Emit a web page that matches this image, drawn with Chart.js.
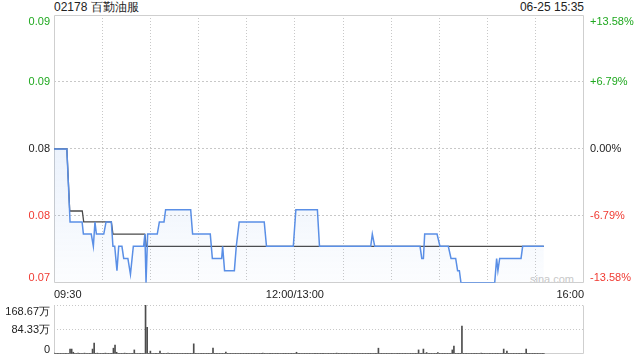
<!DOCTYPE html>
<html>
<head>
<meta charset="utf-8">
<script src="https://cdn.jsdelivr.net/npm/chart.js@4.4.1/dist/chart.umd.min.js"></script>
<style>
  html, body { margin: 0; padding: 0; background: #fff; }
  #wrap { position: relative; width: 640px; height: 360px; overflow: hidden;
          font-family: 'Liberation Sans', Arial, sans-serif; }
  #main { position: absolute; left: 0; top: 0; }
  #vol  { position: absolute; left: 0; top: 300px; }
  .txt  { position: absolute; font-size: 12px; line-height: 14px; color: #222; white-space: nowrap; }
</style>
</head>
<body>
<div id="wrap">
  <div class="txt" style="left:54px; top:0;">02178 百勤油服</div>
  <div class="txt" style="right:56px; top:0;">06-25 15:35</div>
  <div class="txt" style="right:66px; top:272px; font-size:11px; color:#c8c8c8;">sina.com</div>
  <canvas id="main" width="640" height="308"></canvas>
  <canvas id="vol" width="640" height="60"></canvas>
</div>
<script>
/* 02178 intraday — price vs average, with minute volume below */

const prevClose = 0.081;

// trading minutes from 09:30 (12:00 and 13:00 share minute 150)
const timeTickValues = [0, 30, 60, 90, 120, 150, 180, 210, 240, 270, 300, 330];
const timeTickLabels = ['09:30', '', '', '', '', '12:00/13:00', '', '', '', '', '', '16:00'];

const priceTickValues = [0.070, 0.0755, 0.081, 0.0865, 0.092];

// price line, vertices (minute, price)
const priceTimes = [
  0, 8, 10, 17.5, 18.3, 23.2, 24.5, 25.5, 26.4, 31, 32.4, 35.7, 36.7, 37.8, 39.2, 40.3,
  42.3, 43.4, 46, 47.6, 49.4, 55.8, 56.6, 57.3, 58.3, 64.3, 65.6, 68.5, 69.5, 85.1, 86.3,
  97.3, 98.6, 104.4, 105, 106.2, 112.3, 113.5, 115.3, 130.9, 132.3, 149, 150.6, 164, 165.3,
  197.2, 198.2, 199.7, 227.9, 229, 230, 230.8, 238.5, 240.3, 245.5, 247.2, 250.1, 251.3,
  252.4, 253.4, 274.4, 275.6, 276.4, 277.5, 290.8, 291.8, 305
];
const priceValues = [
  0.081, 0.081, 0.075, 0.075, 0.074, 0.074, 0.073, 0.075, 0.074, 0.074, 0.075, 0.075, 0.073, 0.073, 0.071, 0.073,
  0.073, 0.072, 0.072, 0.0707, 0.073, 0.073, 0.074, 0.070, 0.074, 0.074, 0.075, 0.075, 0.076, 0.076, 0.074,
  0.074, 0.072, 0.072, 0.073, 0.071, 0.071, 0.073, 0.075, 0.075, 0.073, 0.073, 0.076, 0.076, 0.073,
  0.073, 0.074, 0.073, 0.073, 0.072, 0.072, 0.074, 0.074, 0.073, 0.073, 0.072, 0.072, 0.071,
  0.071, 0.070, 0.070, 0.072, 0.071, 0.072, 0.072, 0.073, 0.073
];

// average price line, vertices (minute, price)
const avgTimes  = [0, 8, 9.8, 17.6, 18.5, 35.7, 36.7, 56.5, 57.5, 305];
const avgValues = [0.081, 0.081, 0.0759, 0.0759, 0.075, 0.075, 0.074, 0.074, 0.073, 0.073];

// volume per minute (万), minute 0..305
const volumes = [
  3, 2, 1, 2, 1, 1, 2, 1, 1, 2,
  17, 17, 6, 1, 2, 3, 1, 2, 1, 3,
  1, 2, 1, 1, 17, 38, 1, 3, 1, 1,
  2, 1, 3, 1, 1, 2, 1, 20, 31, 6,
  2, 1, 1, 2, 3, 1, 1, 2, 1, 1,
  14, 1, 2, 1, 1, 2, 1, 168.67, 92, 2,
  10, 1, 2, 1, 1, 2, 10, 1, 1, 2,
  1, 3, 1, 1, 2, 1, 1, 1, 2, 1,
  1, 2, 1, 1, 2, 1, 1, 35, 1, 1,
  2, 1, 1, 1, 2, 1, 1, 2, 1, 20,
  1, 1, 2, 1, 1, 1, 2, 7, 1, 1,
  1, 2, 1, 1, 1, 2, 1, 1, 1, 2,
  1, 1, 2, 1, 1, 1, 2, 1, 1, 1,
  3, 1, 1, 2, 1, 1, 1, 2, 1, 1,
  1, 2, 1, 1, 1, 2, 1, 1, 1, 2,
  2, 6, 1, 1, 2, 1, 1, 1, 2, 1,
  1, 2, 1, 1, 1, 2, 1, 1, 1, 2,
  1, 1, 2, 1, 1, 1, 3, 1, 1, 1,
  2, 1, 1, 1, 2, 1, 1, 1, 2, 1,
  1, 2, 1, 1, 1, 2, 1, 1, 1, 2,
  1, 2, 20, 1, 1, 2, 1, 1, 1, 2,
  1, 1, 2, 1, 1, 1, 2, 1, 1, 1,
  2, 1, 1, 1, 2, 1, 1, 14, 2, 1,
  17, 1, 5, 2, 1, 1, 2, 1, 1, 5,
  1, 2, 1, 1, 2, 1, 1, 2, 14, 27,
  1, 2, 1, 1, 96, 1, 1, 1, 2, 1,
  1, 2, 1, 1, 1, 2, 3, 1, 1, 1,
  2, 1, 1, 1, 2, 1, 1, 1, 2, 1,
  17, 1, 10, 1, 1, 2, 1, 1, 1, 2,
  1, 1, 2, 1, 17, 1, 1, 2, 1, 1,
  2, 1, 1, 2, 1, 2
];
const volTickValues = [0, 84.33, 168.67];

const FONT   = "'Liberation Sans', Arial, sans-serif";
const GREEN  = '#1fa81f';
const RED    = '#f03a32';
const DARK   = '#222';
const GRID   = '#c8c8c8';
const FRAME  = '#cfcfcf';

Chart.defaults.font.family = FONT;
Chart.defaults.font.size   = 11;
Chart.defaults.color       = DARK;

const priceColor = v => Math.abs(v - prevClose) < 1e-9 ? DARK : (v > prevClose ? GREEN : RED);

// frame round the plot area, only the sides asked for
const framePlugin = {
  id: 'frame',
  beforeDatasetsDraw(chart, args, opts) {
    const { ctx, chartArea: a } = chart;
    ctx.save();
    ctx.strokeStyle = FRAME;
    ctx.lineWidth   = 1;
    ctx.beginPath();
    const L = Math.round(a.left) + 0.5, R = Math.round(a.right) - 0.5;
    const T = Math.round(a.top) + 0.5,  B = Math.round(a.bottom) - 0.5;
    if (opts.sides.includes('top'))    { ctx.moveTo(L, T); ctx.lineTo(R, T); }
    if (opts.sides.includes('bottom')) { ctx.moveTo(L, B); ctx.lineTo(R, B); }
    if (opts.sides.includes('left'))   { ctx.moveTo(L, T); ctx.lineTo(L, B); }
    if (opts.sides.includes('right'))  { ctx.moveTo(R, T); ctx.lineTo(R, B); }
    ctx.stroke();
    ctx.restore();
  }
};

// y labels, first and last kept inside the plot area
const sideLabelsPlugin = {
  id: 'sideLabels',
  afterDraw(chart, args, opts) {
    const { ctx, chartArea: a } = chart;
    const y = chart.scales.y;
    const n = y.ticks.length;
    ctx.save();
    ctx.font = '11px ' + FONT;
    y.ticks.forEach((t, i) => {
      const py = y.getPixelForValue(t.value);
      ctx.textBaseline = i === 0 ? 'bottom' : (i === n - 1 ? 'top' : 'middle');
      const yy = i === 0 ? py + 1 : (i === n - 1 ? py + 1 : py);
      ctx.textAlign = 'right';
      ctx.fillStyle = opts.leftColor(t.value);
      ctx.fillText(opts.left(t.value), a.left - 4, yy);
      if (opts.right) {
        ctx.textAlign = 'left';
        ctx.fillStyle = opts.rightColor(t.value);
        ctx.fillText(opts.right(t.value), a.right + 6, yy);
      }
    });
    ctx.restore();
  }
};

const fillGradient = ctx => {
  const { chart } = ctx;
  const a = chart.chartArea;
  if (!a) return 'rgba(80, 140, 230, 0.08)';
  const g = chart.ctx.createLinearGradient(0, a.top, 0, a.bottom);
  g.addColorStop(0, 'rgba(80, 140, 230, 0.20)');
  g.addColorStop(1, 'rgba(80, 140, 230, 0.02)');
  return g;
};

new Chart(document.getElementById('main'), {
  type: 'line',
  data: {
    datasets: [
      {
        label: '价格',
        data: priceTimes.map((t, i) => ({ x: t, y: priceValues[i] })),
        borderColor: '#5a8fe6',
        backgroundColor: fillGradient,
        borderWidth: 1.5,
        pointRadius: 0,
        tension: 0,
        fill: 'start'
      },
      {
        label: '均价',
        data: avgTimes.map((t, i) => ({ x: t, y: avgValues[i] })),
        borderColor: '#4a4a4a',
        borderWidth: 1.3,
        pointRadius: 0,
        tension: 0,
        fill: false
      }
    ]
  },
  options: {
    responsive: false,
    devicePixelRatio: 1,
    animation: false,
    layout: { padding: { left: 54, right: 56, top: 15, bottom: 0 } },
    plugins: {
      legend:  { display: false },
      tooltip: { enabled: false },
      frame:   { sides: ['top', 'bottom', 'left', 'right'] },
      sideLabels: {
        left:       v => v.toFixed(2),
        leftColor:  priceColor,
        right:      v => { const p = (v - prevClose) / prevClose * 100; return (p > 0.001 ? '+' : '') + p.toFixed(2) + '%'; },
        rightColor: priceColor
      }
    },
    scales: {
      x: {
        type: 'linear',
        min: 0,
        max: 330,
        afterBuildTicks: s => { s.ticks = timeTickValues.map(v => ({ value: v })); },
        ticks: {
          autoSkip: false,
          maxRotation: 0,
          align: 'inner',
          padding: 6,
          color: DARK,
          font: { size: 11 },
          callback: (v, i) => timeTickLabels[i]
        },
        grid: {
          drawTicks: false,
          color: c => (c.index === 0 || c.index === timeTickValues.length - 1) ? 'rgba(0,0,0,0)' : GRID
        },
        border: { display: false, dash: [1, 2] }
      },
      y: {
        min: priceTickValues[0],
        max: priceTickValues[priceTickValues.length - 1],
        afterBuildTicks: s => { s.ticks = priceTickValues.map(v => ({ value: v })); },
        ticks: { display: false },
        grid: {
          drawTicks: false,
          color: c => (c.index === 0 || c.index === priceTickValues.length - 1) ? 'rgba(0,0,0,0)' : GRID
        },
        border: { display: false, dash: [2, 2] }
      }
    }
  },
  plugins: [framePlugin, sideLabelsPlugin]
});

new Chart(document.getElementById('vol'), {
  type: 'bar',
  data: {
    datasets: [{
      label: '成交量',
      data: volumes.map((v, i) => ({ x: i, y: v })),
      backgroundColor: '#4d4d4d',
      barThickness: 1
    }]
  },
  options: {
    responsive: false,
    devicePixelRatio: 1,
    animation: false,
    layout: { padding: { left: 54, right: 56, top: 5, bottom: 6 } },
    plugins: {
      legend:  { display: false },
      tooltip: { enabled: false },
      frame:   { sides: ['bottom', 'left', 'right'] },
      sideLabels: {
        left:      v => v === 0 ? '0' : v.toFixed(2) + '万',
        leftColor: () => DARK
      }
    },
    scales: {
      x: {
        type: 'linear',
        min: 0,
        max: 330,
        offset: false,
        display: false,
        grid: { display: false, offset: false }
      },
      y: {
        min: 0,
        max: volTickValues[volTickValues.length - 1],
        afterBuildTicks: s => { s.ticks = volTickValues.map(v => ({ value: v })); },
        ticks: { display: false },
        grid: {
          drawTicks: false,
          color: c => c.index === 0 ? 'rgba(0,0,0,0)' : GRID
        },
        border: { display: false, dash: [1, 2] }
      }
    }
  },
  plugins: [framePlugin, sideLabelsPlugin]
});
</script>
</body>
</html>
